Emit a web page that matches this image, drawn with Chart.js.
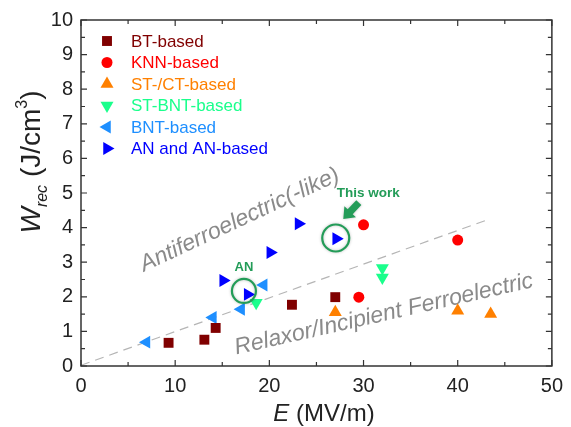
<!DOCTYPE html>
<html>
<head>
<meta charset="utf-8">
<script src="https://cdn.jsdelivr.net/npm/chart.js@4"></script>
<style>
  body { margin: 0; background: #fff; }
  canvas { display: block; }
</style>
</head>
<body>
<canvas id="wrecChart" width="571" height="427"></canvas>
<script>
'use strict';

// values: E (MV/m) and W_rec (J/cm3)
const btE = [9.3, 13.1, 14.3, 22.4, 27.0];
const btW = [0.67, 0.76, 1.10, 1.77, 1.99];
const knnE = [29.5, 30.0, 40.0];
const knnW = [1.99, 4.08, 3.64];
const stE = [27.0, 40.0, 43.5];
const stW = [1.55, 1.60, 1.50];
const stbntE = [18.6, 32.0, 32.0];
const stbntW = [1.83, 2.83, 2.56];
const bntE = [6.95, 14.0, 17.0, 19.4];
const bntW = [0.69, 1.40, 1.64, 2.34];
const anE = [15.1, 17.7, 20.1, 23.1, 27.1];
const anW = [2.47, 2.07, 3.28, 4.11, 3.68];

// dashed boundary between the two regions
const guideE = [0, 43.1];
const guideW = [0.02, 4.22];

const seriesNames = ['BT-based', 'KNN-based', 'ST-/CT-based', 'ST-BNT-based', 'BNT-based', 'AN and AN-based'];
const xTicks = [0, 10, 20, 30, 40, 50];
const yTicks = [0, 1, 2, 3, 4, 5, 6, 7, 8, 9, 10];

// highlighted samples (circled)
const circledE = [17.3, 27.05];
const circledW = [2.17, 3.70];

const FONT = 'Arial, "Liberation Sans", sans-serif';
const GREEN = '#239c58';

function toPoints(xs, ys) {
  return xs.map((x, i) => ({ x: x, y: ys[i] }));
}

function markerSet(name, xs, ys, style, rotation, radius, color) {
  return {
    label: name,
    data: toPoints(xs, ys),
    pointStyle: style,
    pointRotation: rotation,
    pointRadius: radius,
    pointHoverRadius: radius,
    pointBackgroundColor: color,
    pointBorderColor: color,
    pointBorderWidth: 0,
    backgroundColor: color,
    borderColor: color,
    showLine: false
  };
}

// draws text parts one after another on a baseline
function drawRich(ctx, parts, cx, cy) {
  let total = 0;
  parts.forEach(p => {
    ctx.font = p.font;
    p.w = ctx.measureText(p.text).width;
    total += p.w;
  });
  let x = cx - total / 2;
  parts.forEach(p => {
    ctx.font = p.font;
    ctx.fillText(p.text, x, cy + (p.dy || 0));
    x += p.w;
  });
}

const decorPlugin = {
  id: 'decor',
  beforeDatasetsDraw(chart) {
    const ctx = chart.ctx;
    const xs = chart.scales.x;
    const ys = chart.scales.y;

    // region labels sit under the markers
    ctx.save();
    ctx.fillStyle = '#8a8a8a';
    ctx.font = 'italic 23px ' + FONT;
    ctx.textAlign = 'center';
    ctx.textBaseline = 'alphabetic';
    ctx.save();
    ctx.translate(xs.getPixelForValue(17.15), ys.getPixelForValue(4.05));
    ctx.rotate(-25 * Math.PI / 180);
    ctx.fillText('Antiferroelectric(-like)', 0, 0);
    ctx.restore();
    ctx.save();
    ctx.translate(xs.getPixelForValue(32.3), ys.getPixelForValue(1.31));
    ctx.rotate(-12.8 * Math.PI / 180);
    ctx.fillText('Relaxor/Incipient Ferroelectric', 0, 0);
    ctx.restore();
    ctx.restore();
  },
  afterDatasetsDraw(chart) {
    const ctx = chart.ctx;
    const area = chart.chartArea;
    const xs = chart.scales.x;
    const ys = chart.scales.y;

    ctx.save();
    // frame
    ctx.strokeStyle = '#333';
    ctx.lineWidth = 1.5;
    ctx.strokeRect(area.left, area.top, area.right - area.left, area.bottom - area.top);

    // inside ticks on all four sides
    ctx.lineWidth = 1.2;
    ctx.beginPath();
    for (let v = 0; v <= 50; v += 5) {
      const px = xs.getPixelForValue(v);
      const len = v % 10 === 0 ? 6 : 4;
      ctx.moveTo(px, area.bottom);
      ctx.lineTo(px, area.bottom - len);
      ctx.moveTo(px, area.top);
      ctx.lineTo(px, area.top + len);
    }
    for (let v = 0; v <= 10; v += 0.5) {
      const py = ys.getPixelForValue(v);
      const len = v % 1 === 0 ? 6 : 4;
      ctx.moveTo(area.left, py);
      ctx.lineTo(area.left + len, py);
      ctx.moveTo(area.right, py);
      ctx.lineTo(area.right - len, py);
    }
    ctx.stroke();

    // green rings around AN and this work
    ctx.strokeStyle = GREEN;
    ctx.lineWidth = 2.2;
    ctx.shadowColor = 'rgba(0,0,0,0.25)';
    ctx.shadowBlur = 3;
    const radii = [12, 13.5];
    circledE.forEach((e, i) => {
      ctx.beginPath();
      ctx.arc(xs.getPixelForValue(e), ys.getPixelForValue(circledW[i]), radii[i], 0, Math.PI * 2);
      ctx.stroke();
    });

    // arrow pointing at this work
    const tipX = xs.getPixelForValue(27.85);
    const tipY = ys.getPixelForValue(4.25);
    const tailX = xs.getPixelForValue(29.5);
    const tailY = ys.getPixelForValue(4.72);
    const dx = tipX - tailX;
    const dy = tipY - tailY;
    const len = Math.sqrt(dx * dx + dy * dy);
    const ux = dx / len, uy = dy / len;
    const nx = -uy, ny = ux;
    const neckX = tipX - ux * 10, neckY = tipY - uy * 10;
    ctx.fillStyle = GREEN;
    ctx.beginPath();
    ctx.moveTo(tailX + nx * 3.5, tailY + ny * 3.5);
    ctx.lineTo(neckX + nx * 3.5, neckY + ny * 3.5);
    ctx.lineTo(neckX + nx * 8, neckY + ny * 8);
    ctx.lineTo(tipX, tipY);
    ctx.lineTo(neckX - nx * 8, neckY - ny * 8);
    ctx.lineTo(neckX - nx * 3.5, neckY - ny * 3.5);
    ctx.lineTo(tailX - nx * 3.5, tailY - ny * 3.5);
    ctx.closePath();
    ctx.fill();
    ctx.shadowBlur = 0;
    ctx.shadowColor = 'transparent';

    ctx.font = 'bold 13px ' + FONT;
    ctx.textAlign = 'center';
    ctx.textBaseline = 'alphabetic';
    ctx.fillText('AN', xs.getPixelForValue(17.3), ys.getPixelForValue(2.76));
    ctx.font = 'bold 13.5px ' + FONT;
    ctx.fillText('This work', xs.getPixelForValue(30.5), ys.getPixelForValue(4.87));

    // legend in the upper left corner
    ctx.textAlign = 'left';
    ctx.textBaseline = 'middle';
    ctx.font = '17px ' + FONT;
    seriesNames.forEach((name, i) => {
      const ds = chart.data.datasets[i];
      const rowY = area.top + 21 + i * 21.5;
      ctx.fillStyle = ds.pointBackgroundColor;
      Chart.helpers.drawPoint(ctx, {
        pointStyle: ds.pointStyle,
        rotation: ds.pointRotation,
        radius: ds.pointRadius,
        borderWidth: 0
      }, area.left + 26, rowY);
      ctx.fillText(name, area.left + 50, rowY + 1);
    });
    ctx.restore();
  },
  afterDraw(chart) {
    const ctx = chart.ctx;
    ctx.save();
    ctx.fillStyle = '#222';
    ctx.textAlign = 'left';
    ctx.textBaseline = 'alphabetic';
    drawRich(ctx, [
      { text: 'E', font: 'italic 24px ' + FONT },
      { text: ' (MV/m)', font: '24px ' + FONT }
    ], 324, 421);

    ctx.translate(40, 162);
    ctx.rotate(-Math.PI / 2);
    drawRich(ctx, [
      { text: 'W', font: 'italic 28px ' + FONT },
      { text: 'rec', font: 'italic 16px ' + FONT, dy: 7 },
      { text: ' (J/cm', font: '28px ' + FONT },
      { text: '3', font: '16px ' + FONT, dy: -13 },
      { text: ')', font: '28px ' + FONT }
    ], 0, 0);
    ctx.restore();
  }
};

const datasets = [
  markerSet(seriesNames[0], btE, btW, 'rect', 0, 7, '#800000'),
  markerSet(seriesNames[1], knnE, knnW, 'circle', 0, 5.5, '#ff0000'),
  markerSet(seriesNames[2], stE, stW, 'triangle', 0, 7.5, '#ff8000'),
  markerSet(seriesNames[3], stbntE, stbntW, 'triangle', 180, 7.5, '#1aff8c'),
  markerSet(seriesNames[4], bntE, bntW, 'triangle', 270, 7.5, '#1e8fff'),
  markerSet(seriesNames[5], anE, anW, 'triangle', 90, 7.5, '#0000ff'),
  {
    label: 'guide',
    data: toPoints(guideE, guideW),
    showLine: true,
    borderColor: '#b5b5b5',
    borderWidth: 1.2,
    borderDash: [9, 6],
    pointRadius: 0,
    pointHoverRadius: 0,
    fill: false
  }
];

let ctx = document.getElementById('wrecChart').getContext('2d');

// eslint-disable-next-line no-unused-vars
let wrecChart = new Chart(ctx, {
  type: 'scatter',
  data: { datasets: datasets },
  plugins: [decorPlugin],
  options: {
    responsive: false,
    animation: false,
    devicePixelRatio: 1,
    layout: { padding: { top: 15, right: 16, left: 0, bottom: 0 } },
    plugins: {
      legend: { display: false },
      tooltip: { enabled: false }
    },
    scales: {
      x: {
        type: 'linear',
        min: 0,
        max: 50,
        afterBuildTicks: s => { s.ticks = xTicks.map(v => ({ value: v })); },
        afterFit: s => { s.height = 61; },
        grid: { display: false, drawTicks: false },
        border: { display: false },
        ticks: { padding: 8, color: '#222', maxRotation: 0, font: { size: 20, family: FONT } }
      },
      y: {
        type: 'linear',
        min: 0,
        max: 10,
        afterBuildTicks: s => { s.ticks = yTicks.map(v => ({ value: v })); },
        afterFit: s => { s.width = 81; },
        grid: { display: false, drawTicks: false },
        border: { display: false },
        ticks: { padding: 8, color: '#222', font: { size: 20, family: FONT } }
      }
    }
  }
});
</script>
</body>
</html>
